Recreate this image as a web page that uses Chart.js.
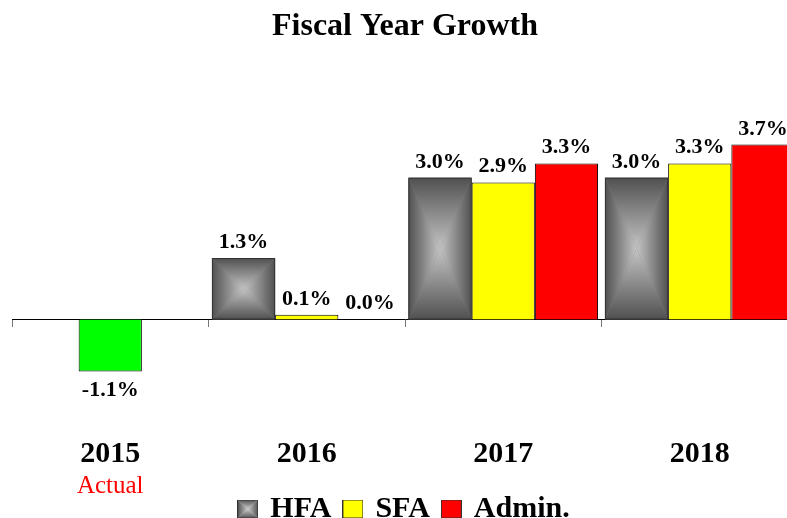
<!DOCTYPE html>
<html>
<head>
<meta charset="utf-8">
<title>Fiscal Year Growth</title>
<script src="https://cdn.jsdelivr.net/npm/chart.js"></script>
<style>
    html, body { margin: 0; padding: 0; background: #fff; overflow: hidden; }
    #wrap { width: 808px; height: 534px; }
</style>
</head>
<body>
<div id="wrap"><canvas id="growthChart" width="808" height="534"></canvas></div>
<script>
    // data
    var years = ['2015', '2016', '2017', '2018'];
    var seriesNames = ['HFA', 'SFA', 'Admin.'];
    var hfaValues = [null, 1.3, 3.0, 3.0];
    var sfaValues = [-1.1, 0.1, 2.9, 3.3];
    var adminValues = [null, 0.0, 3.3, 3.7];
    var yearNotes = ['Actual', '', '', ''];

    var SERIF = "'Liberation Serif', 'Times New Roman', serif";

    // four triangles, each with its own linear gradient -> "from center" look
    function paintRectGradient(ctx, l, t, r, b, edge, mid) {
        var cx = (l + r) / 2, cy = (t + b) / 2;
        var parts = [
            [[l, t], [r, t], [0, t, 0, cy]],
            [[l, b], [r, b], [0, b, 0, cy]],
            [[l, t], [l, b], [l, 0, cx, 0]],
            [[r, t], [r, b], [r, 0, cx, 0]]
        ];
        parts.forEach(function (p) {
            var g = ctx.createLinearGradient(p[2][0], p[2][1], p[2][2], p[2][3]);
            g.addColorStop(0, edge);
            g.addColorStop(1, mid);
            ctx.beginPath();
            ctx.moveTo(p[0][0], p[0][1]);
            ctx.lineTo(p[1][0], p[1][1]);
            ctx.lineTo(cx, cy);
            ctx.closePath();
            ctx.fillStyle = g;
            ctx.fill();
        });
    }

    function swatch(kind, fill) {
        var c = document.createElement('canvas');
        c.width = 21; c.height = 19;
        var x = c.getContext('2d');
        if (kind === 'grad') {
            paintRectGradient(x, 0, 0, 21, 19, '#4f4f4f', '#c8c8c8');
        } else {
            x.fillStyle = fill;
            x.fillRect(0, 0, 21, 19);
        }
        x.strokeStyle = '#333';
        x.lineWidth = 1;
        x.strokeRect(0.5, 0.5, 20, 18);
        return c;
    }
    var legendSwatches = [swatch('grad'), swatch('solid', '#ffff00'), swatch('solid', '#ff0000')];

    var hfaPaint = {
        id: 'hfaPaint',
        afterDatasetDraw: function (chart, args) {
            if (args.index !== 0) return;
            var ctx = chart.ctx;
            args.meta.data.forEach(function (el, i) {
                if (hfaValues[i] === null) return;
                var p = el.getProps(['x', 'y', 'base', 'width'], true);
                var l = p.x - p.width / 2, r = p.x + p.width / 2;
                var t = Math.min(p.y, p.base), b = Math.max(p.y, p.base);
                ctx.save();
                paintRectGradient(ctx, l, t, r, b, '#505050', '#c4c4c4');
                ctx.strokeStyle = '#333';
                ctx.lineWidth = 1;
                ctx.strokeRect(l + 0.5, t + 0.5, r - l - 1, b - t - 1);
                ctx.restore();
            });
        }
    };

    var valueLabels = {
        id: 'valueLabels',
        afterDatasetsDraw: function (chart) {
            var ctx = chart.ctx;
            ctx.save();
            ctx.font = 'bold 22px ' + SERIF;
            ctx.fillStyle = '#000';
            ctx.textAlign = 'center';
            ctx.textBaseline = 'alphabetic';
            chart.data.datasets.forEach(function (ds, di) {
                chart.getDatasetMeta(di).data.forEach(function (el, i) {
                    var v = ds.data[i];
                    if (v === null) return;
                    var y = v < 0 ? el.y + 25 : el.y - 10;
                    ctx.fillText(v.toFixed(1) + '%', el.x, y);
                });
            });
            // note under the first year
            var xl = chart.scales.xl;
            ctx.font = '25px ' + SERIF;
            ctx.fillStyle = '#ff0000';
            yearNotes.forEach(function (n, i) {
                if (n) ctx.fillText(n, xl.getPixelForValue(i), 493);
            });
            ctx.restore();
        }
    };

    var ctx = document.getElementById('growthChart').getContext('2d');
    new Chart(ctx, {
        type: 'bar',
        data: {
            labels: years,
            datasets: [
                { label: seriesNames[0], data: hfaValues, backgroundColor: '#808080', borderColor: '#333', borderWidth: 1 },
                { label: seriesNames[1], data: sfaValues, backgroundColor: ['#00ff00', '#ffff00', '#ffff00', '#ffff00'], borderColor: '#000', borderWidth: 1 },
                { label: seriesNames[2], data: adminValues, backgroundColor: '#ff0000', borderColor: '#000', borderWidth: 1 }
            ]
        },
        options: {
            responsive: false,
            animation: false,
            layout: { padding: { left: 12, right: 10, top: 0, bottom: 0 } },
            datasets: { bar: { categoryPercentage: 0.965, barPercentage: 1.0 } },
            scales: {
                y: { display: false, min: -2.298, max: 5.396 },
                x: {
                    position: { y: 0 },
                    offset: true,
                    grid: { offset: true, drawOnChartArea: false, drawTicks: true, tickLength: 7, tickColor: '#777' },
                    border: { display: true, color: '#000', width: 1 },
                    ticks: { display: false }
                },
                xl: {
                    type: 'category',
                    position: 'bottom',
                    labels: years,
                    offset: true,
                    grid: { display: false, drawTicks: false },
                    border: { display: false },
                    ticks: { color: '#000', padding: 3, font: { family: SERIF, size: 30, weight: 'bold', lineHeight: 1.53 } }
                }
            },
            plugins: {
                title: {
                    display: true,
                    text: 'Fiscal Year Growth',
                    color: '#000',
                    font: { family: SERIF, size: 32, weight: 'bold' },
                    padding: { top: 8, bottom: 18 }
                },
                legend: {
                    position: 'bottom',
                    labels: {
                        usePointStyle: true,
                        boxWidth: 15,
                        boxHeight: 19,
                        padding: 14,
                        color: '#000',
                        font: { family: SERIF, size: 30, weight: 'bold' },
                        generateLabels: function () {
                            return seriesNames.map(function (n, i) {
                                return { text: n, pointStyle: legendSwatches[i], fillStyle: '#fff', strokeStyle: '#333', lineWidth: 0, hidden: false, datasetIndex: i, fontColor: '#000' };
                            });
                        }
                    }
                },
                tooltip: { enabled: false }
            }
        },
        plugins: [hfaPaint, valueLabels]
    });
</script>
</body>
</html>
